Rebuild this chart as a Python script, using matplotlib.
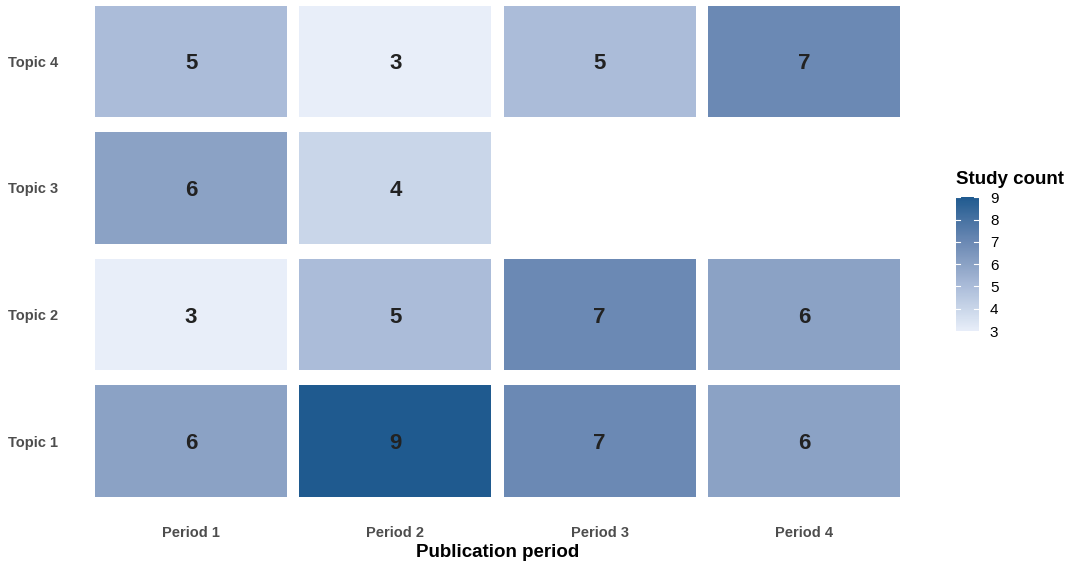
import numpy as np
import matplotlib
matplotlib.use("Agg")
import matplotlib.pyplot as plt
from matplotlib.colors import LinearSegmentedColormap, Normalize
from matplotlib.cm import ScalarMappable

plt.rcParams['font.family'] = ['Liberation Sans', 'DejaVu Sans']

# data
periods = ["Period 1", "Period 2", "Period 3", "Period 4"]
topics = ["Topic 1", "Topic 2", "Topic 3", "Topic 4"]
topic1 = [6, 9, 7, 6]
topic2 = [3, 5, 7, 6]
topic3 = [6, 4, np.nan, np.nan]
topic4 = [5, 3, 5, 7]
counts = np.array([topic1, topic2, topic3, topic4], dtype=float)

# colour scale (light to dark blue)
cmap = LinearSegmentedColormap.from_list(
    "blues",
    [(0.0, "#E8EEF9"), (1/6, "#C9D6E9"), (2/6, "#ABBCD9"), (3/6, "#8BA2C5"),
     (4/6, "#6B89B4"), (5/6, "#4772A2"), (1.0, "#1F5A8F")])
norm = Normalize(vmin=3, vmax=9)

fig = plt.figure(figsize=(10.68, 5.65), dpi=100)
ax = fig.add_axes([0.0833, 0.1115, 0.765, 0.881])

xs = np.arange(1, len(periods) + 1)
for i, topic in enumerate(topics):
    row = counts[i]
    ok = ~np.isnan(row)
    ax.bar(xs[ok], 0.88, bottom=i + 1 - 0.44, width=0.94,
           color=cmap(norm(row[ok])), linewidth=0)
    for x, v in zip(xs[ok], row[ok]):
        ax.text(x, i + 1, f"{int(v)}", ha="center", va="center_baseline",
                fontsize=16, fontweight="bold", color="#222222")

ax.set_xlim(0.5, 4.5)
ax.set_ylim(0.52, 4.45)
ax.set_xticks(xs)
ax.set_xticklabels(periods, fontsize=10.5, fontweight="bold", color="#4D4D4D")
ax.set_yticks(np.arange(1, len(topics) + 1))
ax.set_yticklabels(topics, fontsize=10.5, fontweight="bold", color="#4D4D4D")
ax.tick_params(axis="x", length=0, pad=17.5)
ax.tick_params(axis="y", length=0, pad=22)
for s in ax.spines.values():
    s.set_visible(False)
ax.set_xlabel("Publication period", fontsize=13.5, fontweight="bold", labelpad=3)

# colour bar
cax = fig.add_axes([0.895, 0.414, 0.0215, 0.237])
sm = ScalarMappable(norm=norm, cmap=cmap)
cb = fig.colorbar(sm, cax=cax, ticks=range(3, 10))
cb.outline.set_visible(False)
cax.tick_params(length=0, labelsize=11, pad=8)
for t in range(3, 10):
    cax.plot([0, 0.2], [t, t], color="white", lw=0.8, transform=cax.get_yaxis_transform())
    cax.plot([0.8, 1], [t, t], color="white", lw=0.8, transform=cax.get_yaxis_transform())
fig.text(0.895, 0.683, "Study count", fontsize=13.5, fontweight="bold", va="center", ha="left")

fig.savefig("out.png", dpi=100)
